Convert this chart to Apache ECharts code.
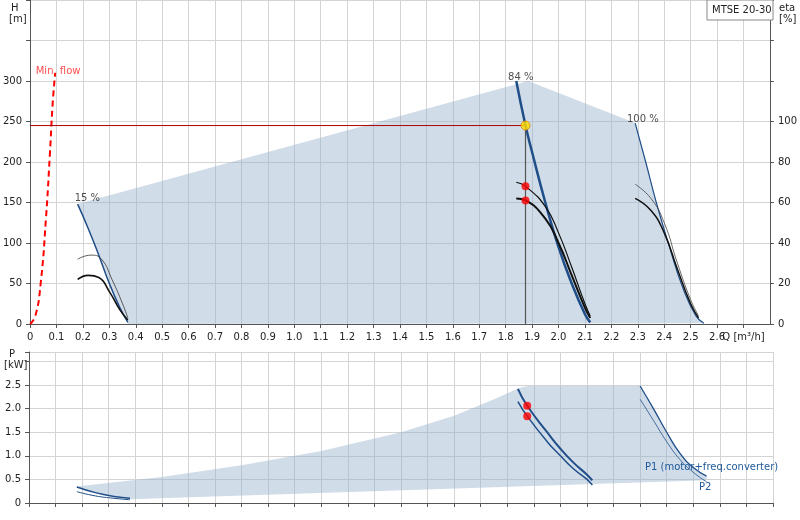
<!DOCTYPE html>
<html><head><meta charset="utf-8">
<script src="https://cdn.jsdelivr.net/npm/echarts@6/dist/echarts.min.js"></script>
<style>body{margin:0;background:#fff}#c{width:800px;height:520px}</style></head>
<body><div id="c"></div>
<script>
// ---- data ----
const minFlow = [[0,0],[0.02,10],[0.04,50],[0.06,130],[0.075,210],[0.085,270],[0.095,310]];
const h15 = [[0.18,148],[0.22,118],[0.26,85],[0.3,50],[0.34,20],[0.37,2]];
const h84 = [[1.84,300],[1.875,245],[1.9,212],[1.95,150],[2.0,95],[2.05,50],[2.1,12],[2.12,2]];
const h100 = [[2.29,248],[2.33,200],[2.37,150],[2.42,95],[2.47,45],[2.52,10],[2.55,1]];
const hTop = [[1.885,300],[2.29,248]];
const eta15a = [[0.18,32],[0.23,34],[0.27,32],[0.31,22],[0.35,10],[0.37,3]];
const eta15b = [[0.18,22],[0.22,24],[0.26,23],[0.3,16],[0.34,7],[0.37,2]];
const eta84a = [[1.84,70],[1.875,68],[1.95,58],[2.0,45],[2.05,28],[2.1,10],[2.12,4]];
const eta84b = [[1.84,62],[1.875,61],[1.95,52],[2.0,40],[2.05,24],[2.1,8],[2.12,3]];
const eta100a = [[2.29,69],[2.35,62],[2.4,50],[2.45,30],[2.5,12],[2.53,4]];
const eta100b = [[2.29,62],[2.35,56],[2.4,45],[2.45,27],[2.5,10],[2.53,3]];
const dutyQ = 1.875, dutyH = 245, dutyEta = [68,61], dutyP = [2.06,1.84];
const p1_15 = [[0.18,0.34],[0.25,0.22],[0.32,0.14],[0.38,0.1]];
const p2_15 = [[0.18,0.24],[0.25,0.15],[0.32,0.1],[0.38,0.07]];
const p1_84 = [[1.84,2.42],[1.875,2.06],[1.95,1.5],[2.0,1.15],[2.05,0.85],[2.1,0.6],[2.12,0.48]];
const p2_84 = [[1.84,2.15],[1.875,1.84],[1.95,1.3],[2.0,1.0],[2.05,0.72],[2.1,0.5],[2.12,0.38]];
const p1_100 = [[2.3,2.48],[2.35,2.0],[2.4,1.5],[2.45,1.05],[2.5,0.75],[2.55,0.57]];
const p2_100 = [[2.3,2.2],[2.35,1.75],[2.4,1.3],[2.45,0.92],[2.5,0.65],[2.55,0.45]];
const pTopEdge = [[0.18,0.35],[0.5,0.55],[0.8,0.8],[1.1,1.1],[1.4,1.5],[1.6,1.85],[1.75,2.2],[1.85,2.45],[1.88,2.48],[2.3,2.48]];
const pBottomEdge = [[2.55,0.48],[0.38,0.08]];
// ---- polygons ----
const hPoly = [[0.18,148],...hTop,...h100,[0.37,0],...h15.slice().reverse()];
const pPoly = [...pTopEdge,...p1_100.slice(1),...pBottomEdge,...p1_15.slice().reverse()];
const FONT = 'DejaVu Sans';
const GRID = '#d4d4d4';
function poly(pts, xi, yi){
  return {type:'custom', xAxisIndex:xi, yAxisIndex:yi, silent:true, z:1, data:[[0,0]],
    renderItem:(p,api)=>({type:'polygon', shape:{points:pts.map(d=>api.coord(d))},
      style:{fill:'rgba(150,178,205,0.45)'}})};
}
function ln(data, xi, yi, color, w, extra){
  return Object.assign({type:'line', data, xAxisIndex:xi, yAxisIndex:yi, smooth:true, showSymbol:false,
    lineStyle:{color, width:w}, z:3, silent:true}, extra||{});
}
const xLab = v => { if (Math.abs(v-2.7)<1e-6) return 'Q [m³/h]'; if (v>2.65) return ''; return v===0?'0':v.toFixed(1); };
const opt = {
  animation:false,
  textStyle:{fontFamily:FONT},
  grid:[{left:29,right:27,top:0,bottom:196},{left:29,right:27,top:352,bottom:17}],
  xAxis:[
    {type:'value',gridIndex:0,min:0,max:2.8,interval:0.1,axisLine:{lineStyle:{color:'#555'}},axisTick:{show:true,length:4},
     axisLabel:{formatter:xLab,color:'#222',fontSize:10,showMaxLabel:false},splitLine:{lineStyle:{color:GRID}}},
    {type:'value',gridIndex:1,min:0,max:2.8,interval:0.1,axisLine:{lineStyle:{color:'#555'}},axisTick:{show:true,length:4},
     axisLabel:{show:false},splitLine:{lineStyle:{color:GRID}}}
  ],
  yAxis:[
    {type:'value',gridIndex:0,min:0,max:400,interval:50,axisLine:{show:true,lineStyle:{color:'#555'}},axisTick:{show:true,length:4},
     axisLabel:{formatter:v=>v>300?'':v,color:'#222',fontSize:10},splitLine:{lineStyle:{color:GRID}}},
    {type:'value',gridIndex:0,position:'right',min:0,max:160,interval:20,axisLine:{show:true,lineStyle:{color:'#555'}},axisTick:{show:true,length:4},
     axisLabel:{formatter:v=>v>100?'':v,color:'#222',fontSize:10},splitLine:{show:false}},
    {type:'value',gridIndex:1,min:0,max:3.2,interval:0.5,axisLine:{show:true,lineStyle:{color:'#555'}},axisTick:{show:true,length:4},
     axisLabel:{formatter:v=>v>2.5?'':(v===0?'0':v.toFixed(1)),color:'#222',fontSize:10},splitLine:{lineStyle:{color:GRID}}}
  ],
  series:[
    poly(hPoly,0,0),
    poly(pPoly,1,2),
    ln(minFlow,0,0,'#ff0000',2,{lineStyle:{color:'#ff0000',width:2,type:[6,4]}}),
    ln(h15,0,0,'#1f4e89',1.5),
    ln(h84,0,0,'#1f4e89',2.5),
    ln(h100,0,0,'#1f4e89',1.2),
    ln(eta15a,0,1,'#333',0.8), ln(eta15b,0,1,'#111',1.6),
    ln(eta84a,0,1,'#111',1.2), ln(eta84b,0,1,'#111',2),
    ln(eta100a,0,1,'#444',0.8), ln(eta100b,0,1,'#111',1.5),
    ln([[0,dutyH],[dutyQ,dutyH]],0,0,'#b00000',1,{smooth:false}),
    ln([[dutyQ,0],[dutyQ,dutyH]],0,0,'#555',1.2,{smooth:false}),
    {type:'scatter',xAxisIndex:0,yAxisIndex:1,data:dutyEta.map(e=>[dutyQ,e]),symbolSize:8,itemStyle:{color:'#ff0000'},z:5,silent:true},
    {type:'scatter',xAxisIndex:0,yAxisIndex:0,data:[[dutyQ,dutyH]],symbolSize:9,itemStyle:{color:'#ffe000',borderColor:'#e08000',borderWidth:1},z:6,silent:true},
    {type:'scatter',xAxisIndex:0,yAxisIndex:0,symbolSize:0,silent:true,z:6,
     data:[{value:[0.01,312],label:{formatter:'Min. flow',color:'#ff2020',position:'right',offset:[-2,0]}},
           {value:[0.15,155],label:{formatter:'15 %',position:'right'}},
           {value:[1.79,305],label:{formatter:'84 %',position:'right'}},
           {value:[2.24,253],label:{formatter:'100 %',position:'right'}}],
     label:{show:true,fontSize:10,color:'#222',fontFamily:FONT}},
    ln(p1_15,1,2,'#1f4e89',1.5), ln(p2_15,1,2,'#1f4e89',1),
    ln(p1_84,1,2,'#1f4e89',2), ln(p2_84,1,2,'#1f4e89',1.5),
    ln(p1_100,1,2,'#1f4e89',1.3), ln(p2_100,1,2,'#1f4e89',0.8),
    {type:'scatter',xAxisIndex:1,yAxisIndex:2,data:dutyP.map(p=>[dutyQ,p]),symbolSize:8,itemStyle:{color:'#ff0000'},z:5,silent:true}
  ],
  graphic:[
    {type:'text',left:11,top:3,style:{text:'H',fontSize:10,fill:'#222',fontFamily:FONT}},
    {type:'text',left:9,top:14,style:{text:'[m]',fontSize:10,fill:'#222',fontFamily:FONT}},
    {type:'text',left:779,top:3,style:{text:'eta',fontSize:10,fill:'#222',fontFamily:FONT}},
    {type:'text',left:779,top:14,style:{text:'[%]',fontSize:10,fill:'#222',fontFamily:FONT}},
    {type:'rect',shape:{x:707,y:0,width:66,height:20},style:{fill:'#fff',stroke:'#888'},z:10},
    {type:'text',left:712,top:5,z:11,style:{text:'MTSE 20-30',fontSize:10,fill:'#222',fontFamily:FONT}},
    {type:'text',left:9,top:349,style:{text:'P',fontSize:10,fill:'#222',fontFamily:FONT}},
    {type:'text',left:4,top:360,style:{text:'[kW]',fontSize:10,fill:'#222',fontFamily:FONT}},
    {type:'text',left:645,top:462,z:11,style:{text:'P1 (motor+freq.converter)',fontSize:10,fill:'#1f5a9a',fontFamily:FONT}},
    {type:'text',left:699,top:482,z:11,style:{text:'P2',fontSize:10,fill:'#1f5a9a',fontFamily:FONT}}
  ]
};
echarts.init(document.getElementById('c')).setOption(opt);
</script></body></html>
